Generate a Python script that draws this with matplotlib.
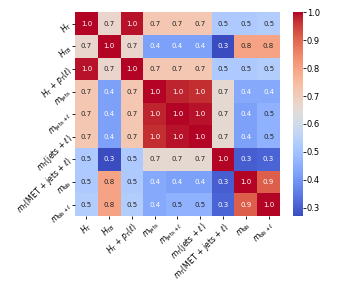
import numpy as np
import matplotlib
matplotlib.use("Agg")
import matplotlib.pyplot as plt
import seaborn as sns

# ----- DATA ---------------------------------------------------------------
labels = [r'$H_T$', r'$H_{TB}$', r'$H_T$ + $p_T(\ell)$', r'$m_{\mathrm{jets}}$',
          r'$m_{\mathrm{jets}+\ell}$', r'$m_T$(jets + $\ell$)',
          r'$m_T$(MET + jets + $\ell$)', r'$m_{\mathrm{bb}}$', r'$m_{\mathrm{bb}+\ell}$']

row_ht = [1.00, 0.67, 0.99, 0.72, 0.72, 0.72, 0.52, 0.52, 0.53]
row_htb = [0.67, 1.00, 0.67, 0.42, 0.42, 0.42, 0.27, 0.80, 0.80]
row_htpt = [0.99, 0.67, 1.00, 0.72, 0.72, 0.72, 0.52, 0.52, 0.53]
row_mjets = [0.72, 0.42, 0.72, 1.00, 0.98, 0.97, 0.66, 0.44, 0.44]
row_mjetsl = [0.72, 0.42, 0.72, 0.98, 1.00, 0.99, 0.66, 0.42, 0.46]
row_mtjl = [0.72, 0.42, 0.72, 0.97, 0.99, 1.00, 0.66, 0.42, 0.46]
row_mtmet = [0.52, 0.27, 0.52, 0.66, 0.66, 0.66, 1.00, 0.30, 0.31]
row_mbb = [0.52, 0.80, 0.52, 0.44, 0.42, 0.42, 0.30, 1.00, 0.91]
row_mbbl = [0.53, 0.80, 0.53, 0.44, 0.46, 0.46, 0.31, 0.91, 1.00]

corr = np.array([row_ht, row_htb, row_htpt, row_mjets, row_mjetsl,
                 row_mtjl, row_mtmet, row_mbb, row_mbbl])

# ----- PLOT ---------------------------------------------------------------
fig = plt.figure(figsize=(3.41, 2.84), dpi=100)
ax = fig.add_axes([0.22, 0.239, 0.601, 0.718])
cax = fig.add_axes([0.859, 0.239, 0.029, 0.718])

sns.heatmap(corr, ax=ax, cbar_ax=cax, cmap='coolwarm', annot=True, fmt='.1f',
            annot_kws={'fontsize': 5}, xticklabels=labels, yticklabels=labels)

ax.tick_params(labelsize=5.5, length=2, width=0.6, pad=1)
plt.setp(ax.get_xticklabels(), rotation=45, ha='right', rotation_mode='anchor')
plt.setp(ax.get_yticklabels(), rotation=45, ha='right', rotation_mode='anchor')

cax.tick_params(labelsize=6, length=2, width=0.6, pad=1)
cax.set_yticks([0.3, 0.4, 0.5, 0.6, 0.7, 0.8, 0.9, 1.0])

fig.savefig('out.png', dpi=100)
